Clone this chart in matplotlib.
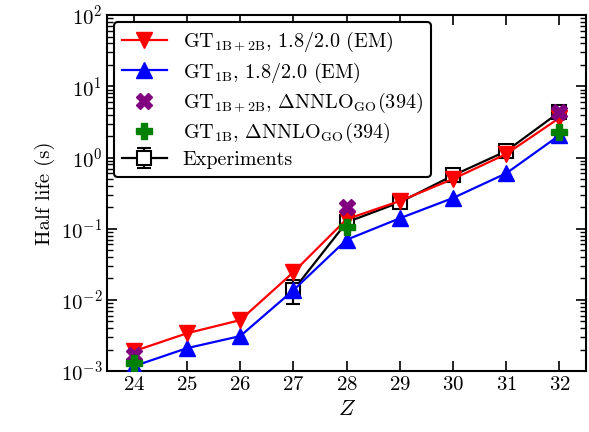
import numpy as np
import matplotlib
matplotlib.use('Agg')
import matplotlib.pyplot as plt

plt.rcParams['font.family'] = 'serif'
plt.rcParams['font.serif'] = ['cmr10', 'DejaVu Serif']
plt.rcParams['mathtext.fontset'] = 'cm'
plt.rcParams['axes.formatter.use_mathtext'] = True

# nuclear charge
Z = [24, 25, 26, 27, 28, 29, 30, 31, 32]

# half lives (s)
gt_1b2b_em = [1.9e-3, 3.4e-3, 5.2e-3, 0.0245, 0.136, 0.245, 0.50, 1.12, 3.6]
gt_1b_em   = [1.17e-3, 2.1e-3, 3.1e-3, 0.0137, 0.070, 0.14, 0.27, 0.60, 2.05]

Z_go        = [24, 28, 32]
gt_1b2b_go  = [1.68e-3, 0.20, 4.4]
gt_1b_go    = [1.28e-3, 0.105, 2.28]

Z_exp   = [27, 28, 29, 30, 31, 32]
exp_hl  = [0.0138, 0.123, 0.235, 0.56, 1.23, 4.35]
exp_err = [0.005, 0.004, 0.005, 0.01, 0.02, 0.05]

fig = plt.figure(figsize=(5.89, 4.32), dpi=100)
ax = fig.add_axes([0.182, 0.141, 0.813, 0.824])

h_exp = ax.errorbar(Z_exp, exp_hl, yerr=exp_err, color='black', marker='s', ms=10,
                    mfc='white', mec='black', mew=1.5, lw=1.6, capsize=5, capthick=1.5,
                    zorder=2)
h_1b, = ax.plot(Z, gt_1b_em, color='blue', marker='^', ms=11, lw=1.6, zorder=3)
h_2b, = ax.plot(Z, gt_1b2b_em, color='red', marker='v', ms=11, lw=1.6, zorder=4)
h_2b_go, = ax.plot(Z_go, gt_1b2b_go, ls='none', marker='X', ms=11, color='purple', zorder=5)
h_1b_go, = ax.plot(Z_go, gt_1b_go, ls='none', marker='P', ms=11, color='green', zorder=6)

ax.set_yscale('log')
ax.set_ylim(1e-3, 1e2)
ax.set_xlim(23.5, 32.5)
ax.set_xticks(Z)
ax.set_xlabel(r'$Z$', fontsize=16)
ax.set_ylabel('Half life (s)', fontsize=15)
ax.tick_params(which='both', direction='in', top=True, right=True, labelsize=15)
ax.tick_params(which='major', length=7, width=1.2)
ax.tick_params(which='minor', length=4, width=1)
for s in ax.spines.values():
    s.set_linewidth(1.5)

handles = [h_2b, h_1b, h_2b_go, h_1b_go, h_exp]
labels = [r'GT$_{\rm 1B+2B}$, 1.8/2.0 (EM)',
          r'GT$_{\rm 1B}$, 1.8/2.0 (EM)',
          r'GT$_{\rm 1B+2B}$, $\Delta$NNLO$_{\rm GO}$(394)',
          r'GT$_{\rm 1B}$, $\Delta$NNLO$_{\rm GO}$(394)',
          'Experiments']
leg = ax.legend(handles, labels, loc='upper left', fontsize=14.5, frameon=True,
                fancybox=True, framealpha=1, edgecolor='black', handlelength=2.2,
                borderpad=0.4, labelspacing=0.3, borderaxespad=0.35)
leg.get_frame().set_linewidth(1.5)

fig.savefig('out.png', dpi=100)
